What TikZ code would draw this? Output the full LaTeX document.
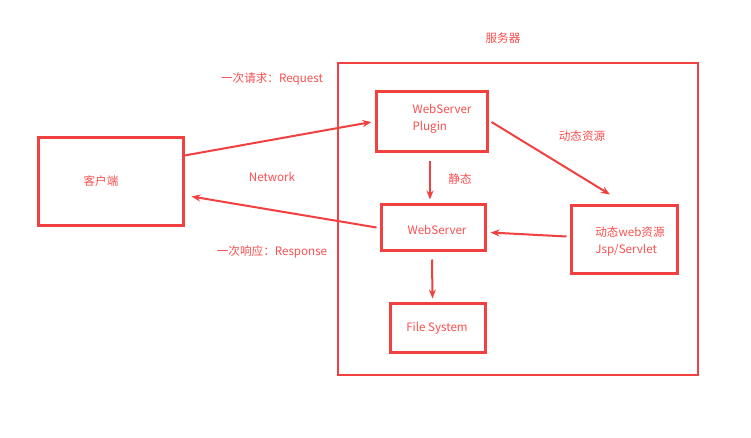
\documentclass[tikz,border=0pt]{standalone}
\usepackage{fontspec}
\setmainfont{Noto Sans CJK SC}
\usetikzlibrary{arrows.meta}
\definecolor{boxred}{RGB}{240,64,64}
\definecolor{textred}{RGB}{250,78,78}
\begin{document}
\begin{tikzpicture}[x=1pt,y=-1pt,
  box/.style={draw=boxred,line width=3pt,inner sep=0pt},
  lbl/.style={text=textred,inner sep=0pt,align=left},
  arr/.style={draw=boxred,line width=2pt,-{Stealth[length=9pt,width=7pt]}}]
\fontsize{11.6}{17}\selectfont
\useasboundingbox (0,0) rectangle (751,438);
% boxes
\node[box,minimum width=145pt,minimum height=87pt] (client) at (110.5,181.5) {};
\node[box,line width=2.5pt,minimum width=360pt,minimum height=312pt] (server) at (518,219) {};
\node[box,minimum width=111pt,minimum height=60pt] (plugin) at (431.5,122) {};
\node[box,minimum width=104pt,minimum height=45pt] (ws) at (433,227.5) {};
\node[box,minimum width=106pt,minimum height=67pt] (dyn) at (624,239.5) {};
\node[box,minimum width=95pt,minimum height=49pt] (fs) at (437.5,327.5) {};
% texts
\node[lbl] (clientlbl) at (101,181) {客户端};
\node[lbl] (serverlbl) at (503,38) {服务器};
\node[lbl] (pluginlbl) at (442,119) {WebServer\\Plugin};
\node[lbl] (wslbl) at (437,230) {WebServer};
\node[lbl] (dynlbl) at (630,241) {动态web资源\\Jsp/Servlet};
\node[lbl] (fslbl) at (437,328) {File System};
\node[lbl] (reqlbl) at (272,79) {一次请求：Request};
\node[lbl] (netlbl) at (272,177) {Network};
\node[lbl] (resplbl) at (272,252) {一次响应：Response};
\node[lbl] (staticlbl) at (460,179) {静态};
\node[lbl] (dynreslbl) at (582,136) {动态资源};
% arrows
\draw[arr] ([yshift=26pt]client.east) -- ([xshift=-3pt]plugin.west);
\draw[arr] ([xshift=-3pt]ws.west) -- ([xshift=7pt,yshift=-15pt]client.east);
\draw[arr] ([xshift=3pt]plugin.east) -- ([xshift=-14pt,yshift=10pt]dyn.north);
\draw[arr] ([xshift=-1.5pt,yshift=-8pt]plugin.south) -- ([xshift=-3pt,yshift=4pt]ws.north);
\draw[arr] ([xshift=-3pt,yshift=3pt]dyn.west) -- ([xshift=4pt,yshift=-5pt]ws.east);
\draw[arr] ([xshift=-1pt,yshift=-8pt]ws.south) -- ([xshift=-5pt,yshift=3pt]fs.north);
\end{tikzpicture}
\end{document}
